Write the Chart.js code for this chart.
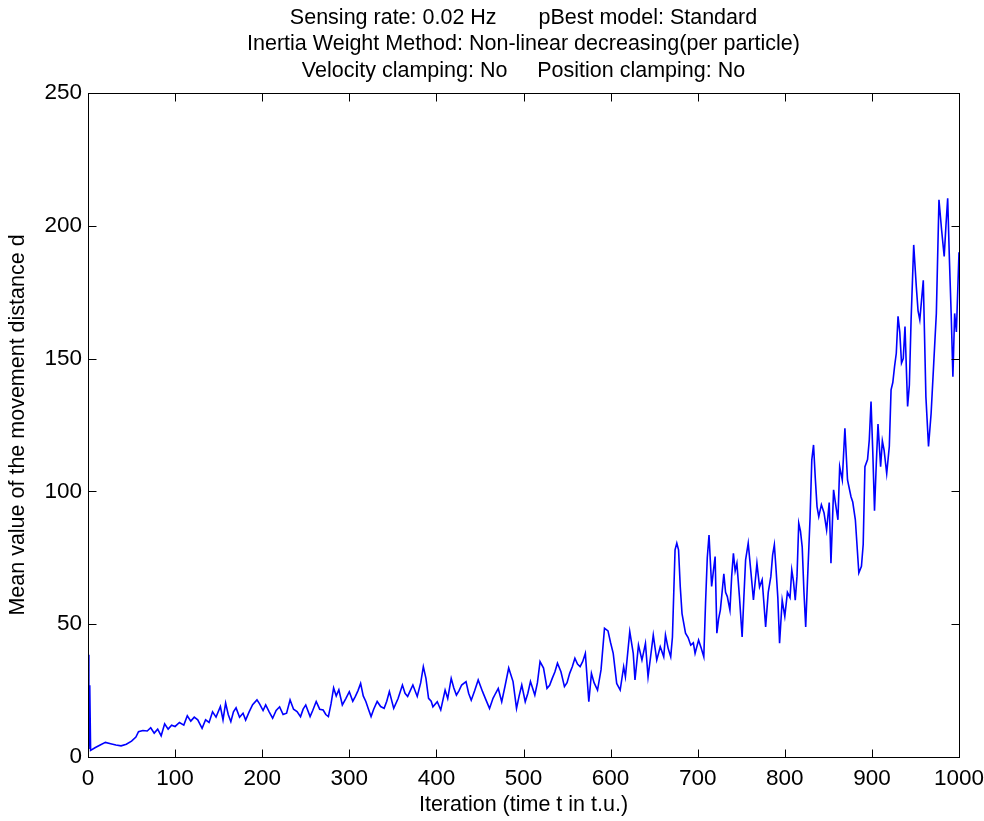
<!DOCTYPE html>
<html>
<head>
<meta charset="utf-8">
<script src="https://cdn.jsdelivr.net/npm/chart.js@4.4.1/dist/chart.umd.min.js"></script>
<style>
  html, body { margin: 0; padding: 0; background: #fff; }
  #chart { display: block; }
</style>
</head>
<body>
<canvas id="chart" width="984" height="821"></canvas>
<script>
// ------------------------------------------------------------
// Data
// ------------------------------------------------------------
const titleLines = [
    'Sensing rate: 0.02 Hz       pBest model: Standard',
    'Inertia Weight Method: Non-linear decreasing(per particle)',
    'Velocity clamping: No     Position clamping: No'
];
const xLabel = 'Iteration (time t in t.u.)';
const yLabel = 'Mean value of the movement distance d';

const xRange = [0, 1000];
const yRange = [0, 250];
const xStep = 100;
const yStep = 50;

const iterations = [
    0, 1, 2, 3, 8, 14, 20, 26, 32, 38, 44,
    50, 55, 58, 63, 68, 72, 76, 80, 84, 88,
    92, 96, 100, 105, 110, 114, 118, 122, 126, 131,
    135, 139, 143, 147, 152, 155, 158, 161, 164, 167,
    170, 174, 178, 181, 185, 189, 194, 197, 201, 204,
    208, 212, 216, 220, 224, 228, 232, 236, 240, 244,
    247, 250, 255, 258, 262, 266, 270, 273, 276, 279,
    282, 285, 288, 292, 296, 300, 304, 307, 310, 313,
    316, 319, 322, 325, 328, 332, 336, 340, 343, 346,
    351, 356, 361, 364, 367, 370, 373, 378, 382, 385,
    388, 391, 394, 396, 401, 405, 410, 413, 417, 420,
    423, 426, 429, 434, 437, 440, 444, 448, 453, 457,
    461, 465, 468, 471, 475, 479, 483, 488, 492, 495,
    498, 502, 505, 508, 513, 516, 519, 523, 527, 530,
    533, 536, 539, 543, 547, 550, 553, 556, 559, 562,
    565, 568, 571, 575, 578, 581, 585, 589, 593, 597,
    600, 603, 607, 611, 615, 617, 622, 626, 628, 632,
    636, 640, 643, 646, 649, 653, 657, 661, 663, 666,
    669, 671, 674, 676, 678, 680, 682, 686, 689, 692,
    695, 697, 701, 704, 707, 709, 711, 713, 716, 718,
    720, 722, 724, 726, 728, 730, 732, 734, 737, 739,
    741, 743, 745, 748, 751, 753, 755, 758, 761, 764,
    766, 768, 771, 774, 776, 778, 781, 784, 786, 788,
    790, 792, 794, 797, 800, 803, 806, 808, 810, 812,
    814, 816, 818, 820, 822, 824, 826, 829, 831, 833,
    835, 837, 839, 842, 845, 848, 851, 853, 856, 858,
    861, 863, 866, 869, 872, 876, 878, 881, 885, 888,
    890, 892, 895, 897, 899, 901, 903, 905, 907, 910,
    912, 914, 917, 920, 922, 924, 926, 928, 930, 932,
    934, 936, 938, 941, 943, 945, 948, 951, 953, 955,
    957, 959, 962, 965, 968, 971, 974, 977, 980, 983,
    985, 987, 989, 991, 993, 995, 997, 1000
];

const meanDistance = [
    38.5, 3, 27, 2.5, 3.5, 4.5, 5.5, 5, 4.5, 4.2, 4.8,
    6, 7.5, 9.5, 10, 9.8, 11, 9, 10.5, 8, 12.5,
    10.5, 12, 11.5, 13, 12, 15.5, 13.5, 15, 14, 10.8,
    14, 13, 17, 15, 19, 14, 20.3, 16, 13.3, 17,
    18.5, 15, 16.5, 13.9, 17, 19.7, 21.5, 20, 17.5, 19.6,
    17, 14.6, 17.5, 18.9, 16, 16.5, 21.5, 18, 17.1, 15.2,
    18, 19.6, 15.2, 17.5, 20.9, 18, 17.7, 16, 15.2, 20,
    26, 23, 25.3, 19.6, 22, 24.6, 21, 22.8, 25, 27.7,
    23, 20.9, 18, 15.2, 18, 20.9, 19, 18.3, 21, 24.6,
    18.3, 22, 27.1, 24, 22.8, 25, 27.1, 22.8, 28, 34,
    29.6, 22.1, 21, 18.9, 20.8, 17.7, 25.2, 22, 29.6, 26,
    23.3, 25, 27.1, 28.4, 24, 21.4, 25, 29, 24.6, 21.4,
    18.3, 22.1, 24, 25.8, 20.8, 27, 33.5, 28.4, 18.3, 23,
    27.1, 20.8, 24, 28.4, 23.3, 28, 35.9, 33.5, 25.8, 27,
    29.6, 32, 35.3, 32.1, 26.5, 28, 31.5, 34, 37.2, 35,
    34, 36, 39, 20.8, 31.5, 28, 25.2, 32.8, 48.5, 47.5,
    43, 39, 27.7, 25.2, 34, 30.2, 47.2, 39, 29, 42.1,
    36.5, 42.8, 30.2, 38, 45.9, 36.5, 41.5, 37.7, 45.9, 41,
    37.7, 45.2, 78, 80.5, 78, 64, 54, 46.6, 45, 42.1,
    43, 39, 44, 41, 37.7, 57.9, 75, 83.6, 64.2, 70,
    75.5, 46.6, 52, 55.3, 62, 69, 62, 60.4, 55.3, 68,
    76.7, 70, 72.9, 60, 45.2, 60, 74.2, 80.5, 70, 59.1,
    66, 72.9, 64, 66.7, 58, 49, 62, 68, 76, 79.9,
    70.4, 60, 42.8, 59, 53, 62, 60, 70.4, 66, 59,
    68, 88, 85, 79, 62, 49, 66, 90, 111.9, 117.5,
    105, 94.3, 90.5, 95, 92, 85.5, 95.8, 73, 100.6, 96,
    89.3, 109.3, 104.3, 123.8, 104.3, 98, 96, 89.3, 69.3, 71.8,
    80, 109.3, 112, 119.4, 133.8, 115, 92.7, 110, 125.4, 109.3,
    119, 115.5, 106.7, 117, 138.2, 141, 147, 152, 165.9, 160,
    148.3, 150, 162.1, 132, 140, 164.6, 192.8, 177, 168, 164.6,
    172, 179.5, 135.6, 116.9, 129.4, 148.3, 167.1, 209.8, 198.5, 188.5,
    200, 210.4, 187.2, 167.1, 143.2, 167, 160, 190
];

if (iterations.length !== meanDistance.length) {
    console.error('length mismatch', iterations.length, meanDistance.length);
}

const FONT = '"Liberation Sans", Arial, sans-serif';

// ------------------------------------------------------------
// Plot box with inward tick marks + title centred over the axes
// ------------------------------------------------------------
const TICK_LEN = 8;

const frameTicks = {
    id: 'frameTicks',
    afterDatasetsDraw(chart) {
        const { ctx, chartArea: a, scales: { x, y } } = chart;
        const L = Math.round(a.left) + 0.5;
        const R = Math.round(a.right) + 0.5;
        const T = Math.round(a.top) + 0.5;
        const B = Math.round(a.bottom) + 0.5;
        ctx.save();
        ctx.strokeStyle = '#000';
        ctx.lineWidth = 1;
        ctx.beginPath();
        x.ticks.forEach(t => {
            const px = Math.round(x.getPixelForValue(t.value)) + 0.5;
            ctx.moveTo(px, B); ctx.lineTo(px, B - TICK_LEN);
            ctx.moveTo(px, T); ctx.lineTo(px, T + TICK_LEN);
        });
        y.ticks.forEach(t => {
            const py = Math.round(y.getPixelForValue(t.value)) + 0.5;
            ctx.moveTo(L, py); ctx.lineTo(L + TICK_LEN, py);
            ctx.moveTo(R, py); ctx.lineTo(R - TICK_LEN, py);
        });
        ctx.stroke();
        ctx.strokeRect(L, T, R - L, B - T);

        // title lines
        ctx.fillStyle = '#000';
        ctx.font = `21.5px ${FONT}`;
        ctx.textAlign = 'center';
        ctx.textBaseline = 'middle';
        const cx = (a.left + a.right) / 2;
        titleLines.forEach((line, i) => {
            ctx.fillText(line, cx, 18 + i * 26.5);
        });
        ctx.restore();
    }
};

// ------------------------------------------------------------
// Chart
// ------------------------------------------------------------
const ctx = document.getElementById('chart').getContext('2d');
new Chart(ctx, {
    type: 'line',
    data: {
        datasets: [{
            data: iterations.map((it, i) => ({ x: it, y: meanDistance[i] })),
            borderColor: '#0000ff',
            borderWidth: 1.6,
            pointRadius: 0,
            tension: 0,
            fill: false
        }]
    },
    options: {
        responsive: false,
        animation: false,
        layout: { padding: { left: 0, right: 25, top: 93, bottom: 0 } },
        plugins: {
            legend: { display: false },
            tooltip: { enabled: false },
            title: { display: false }
        },
        scales: {
            x: {
                type: 'linear',
                min: xRange[0],
                max: xRange[1],
                grid: { display: false, drawTicks: false },
                border: { display: false },
                ticks: {
                    stepSize: xStep,
                    color: '#000',
                    font: { family: FONT, size: 22.5 },
                    padding: 8,
                    maxRotation: 0,
                    callback: v => String(v)
                },
                title: {
                    display: true,
                    text: xLabel,
                    color: '#000',
                    font: { family: FONT, size: 21.5 },
                    padding: { top: 0, bottom: 3 }
                },
                afterFit(scale) {
                    scale.height = 64;
                    scale.paddingLeft = 0;
                    scale.paddingRight = 0;
                }
            },
            y: {
                min: yRange[0],
                max: yRange[1],
                grid: { display: false, drawTicks: false },
                border: { display: false },
                ticks: {
                    stepSize: yStep,
                    color: '#000',
                    font: { family: FONT, size: 22.5 },
                    padding: 6,
                    callback: v => String(v)
                },
                title: {
                    display: true,
                    text: yLabel,
                    color: '#000',
                    font: { family: FONT, size: 21.5 },
                    padding: { top: 5, bottom: 4 }
                },
                afterFit(scale) { scale.width = 88; }
            }
        }
    },
    plugins: [frameTicks]
});
</script>
</body>
</html>
